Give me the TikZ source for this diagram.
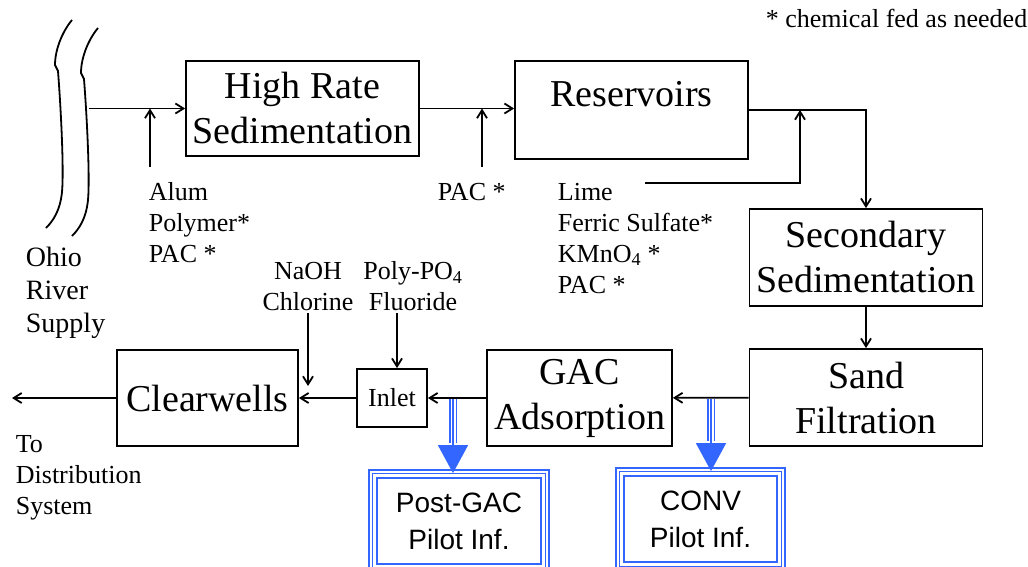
\documentclass[tikz,border=0pt]{standalone}
\usepackage{fontspec}
\setmainfont{Liberation Serif}
\newfontfamily\pilotfont{Liberation Sans}
\usetikzlibrary{arrows.meta,calc}
\definecolor{pilotblue}{RGB}{51,102,255}

\begin{document}
\begin{tikzpicture}[x=1pt,y=1pt,->,>={Straight Barb[length=8pt,width=10pt]},line width=1.8pt,
    unit/.style={draw,inner sep=0pt,align=center,font=\fontsize{38}{45}\selectfont},
    chem/.style={inner sep=0pt,font=\fontsize{26}{31}\selectfont},
    pilot/.style={inner sep=0pt,align=center,font=\pilotfont\fontsize{28}{37}\selectfont},
    feed/.style={pilotblue,line width=1.6pt}]
    \useasboundingbox (0,0) rectangle (1028,-567);

    % treatment units
    \node[unit,minimum width=233pt,minimum height=95pt] (hrs) at (302.5,-108.5) {High Rate\\Sedimentation};
    \node[unit,minimum width=233pt,minimum height=98pt,text height=26pt,text depth=32pt] (res) at (631.5,-110) {Reservoirs};
    \node[unit,minimum width=233pt,minimum height=97pt] (sec) at (866,-257.5) {Secondary\\Sedimentation};
    \node[unit,minimum width=233pt,minimum height=97pt] (sand) at (866,-397.5) {Sand\\Filtration};
    \node[unit,minimum width=185pt,minimum height=96pt] (gac) at (579.5,-398) {GAC\\Adsorption};
    \node[unit,minimum width=70pt,minimum height=58pt,font=\fontsize{26}{31}\selectfont] (inlet) at (392,-398) {Inlet};
    \node[unit,minimum width=181pt,minimum height=96pt] (clear) at (207.5,-398) {Clearwells};

    % pilot plant feeds
    \node[pilot,minimum width=178pt,minimum height=100pt] (postgac) at (459,-521) {Post-GAC\\Pilot Inf.};
    \node[pilot,minimum width=167pt,minimum height=100pt] (conv) at (700.5,-519) {CONV\\Pilot Inf.};

    % chemicals and notes
    \node[chem,anchor=base west] (note) at (765,-28) {* chemical fed as needed};
    \node[chem,anchor=north west,align=left,font=\fontsize{28}{33}\selectfont] (ohio) at (25,-246) {Ohio\\River\\Supply};
    \node[chem,anchor=north west,align=left] (dist) at (15,-435) {To\\Distribution\\System};
    \node[chem,anchor=north west,align=left] (alum) at (148,-182) {Alum\\Polymer*\\PAC *};
    \node[chem,anchor=north west] (pac) at (437,-182) {PAC *};
    \node[chem,anchor=north west,align=left] (lime) at (557,-182) {Lime\\Ferric Sulfate*\\KMnO\textsubscript{4} *\\PAC *};
    \node[chem,anchor=north,align=center] (naoh) at (308,-261) {NaOH\\Chlorine};
    \node[chem,anchor=north,align=center] (poly) at (413,-261) {Poly-PO\textsubscript{4}\\Fluoride};

    \coordinate (intake) at (89,-108.5);
    \coordinate (alumin) at (150,-167);
    \coordinate (pacin) at (482,-167);
    \coordinate (limein) at (645,-183);
    \coordinate (limeup) at (800,-110);
    \coordinate (naohin) at (308,-313);
    \coordinate (naohout) at (308,-386);
    \coordinate (polyin) at (397,-313);
    \coordinate (tap) at (12,-398);
    \coordinate (gactap) at (453,-399);
    \coordinate (convtap) at (711,-399);

    % river banks
    \foreach \dx/\dy in {0/0,26/-8}
        \draw[-,shift={(\dx,\dy)}] (72,-20) .. controls (62,-32) and (55,-50) .. (55,-65) -- (58,-71)
            .. controls (61,-110) and (64,-170) .. (62,-192) .. controls (60,-212) and (52,-222) .. (46,-228);

    % main flow
    \draw (intake) -- (hrs.west);
    \draw (alumin) -- (alumin |- hrs.west);
    \draw (hrs.east) -- (hrs.east -| res.west);
    \draw (pacin) -- (pacin |- hrs.east);
    \draw (res.east) -| (sec.north);
    \draw (limein) -| (limeup);
    \draw (sec) -- (sand);
    \draw (sand) -- (gac);
    \draw (gac) -- (inlet);
    \draw (inlet) -- (clear);
    \draw (clear) -- (tap);
    \draw (naohin) -- (naohout);
    \draw (polyin) -- (polyin |- inlet.north);

    % sample lines to the pilots
    \foreach \src/\dst in {gactap/postgac,convtap/conv} {
        \draw[feed,-{Triangle[width=30pt,length=28pt]}] (\src) -- ($(\src |- \dst.north)+(0,-3)$);
        \foreach \dx in {-3.3,3.3}
            \draw[feed,-,shorten >=30pt] ($(\src)+(\dx,0)$) -- ($(\src |- \dst.north)+(\dx,-3)$);
    }
    \foreach \p in {postgac,conv}
        \foreach \d in {0,3.5,8}
            \draw[feed,-] ([shift={(\d,-\d)}]\p.north west) rectangle ([shift={(-\d,\d)}]\p.south east);
\end{tikzpicture}
\end{document}
